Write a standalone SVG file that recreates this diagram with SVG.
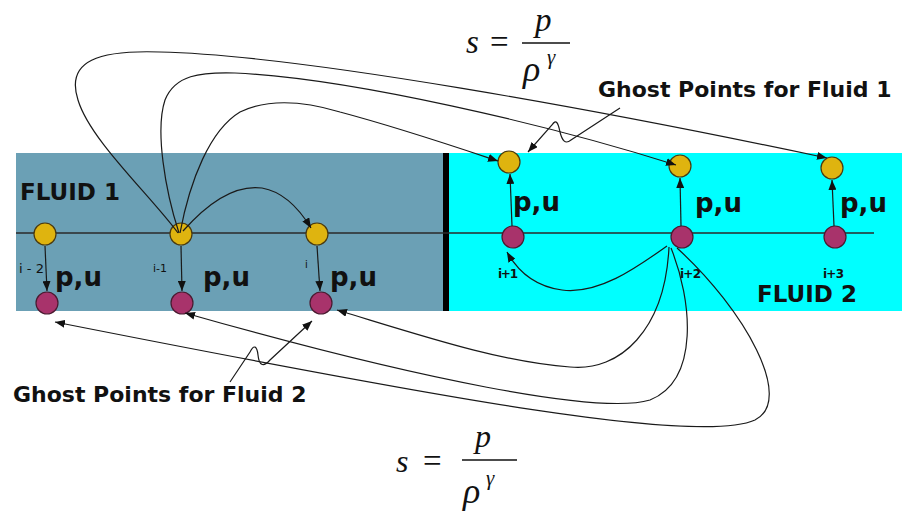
<svg xmlns="http://www.w3.org/2000/svg" width="902" height="511" viewBox="0 0 902 511">
<style>
.lbl{font-family:"DejaVu Sans",Verdana,sans-serif;font-weight:bold;fill:#111}
.idx{font-family:"DejaVu Sans",Verdana,sans-serif;fill:#111}
.math{font-family:"Liberation Serif","Times New Roman",serif;fill:#111}
.it{font-style:italic}
.yel{fill:#dfb40f;stroke:#4a3a10;stroke-width:1.2}
.pur{fill:#a8336b;stroke:#4a1a30;stroke-width:1.2}
.con{fill:none;stroke:#1a1a1a;stroke-width:1.2}
.arr{marker-end:url(#ah)}
</style>
<defs>
<marker id="ah" markerUnits="userSpaceOnUse" markerWidth="10" markerHeight="8" refX="10" refY="4" orient="auto">
<path d="M0,0 L10,4 L0,8 z" fill="#111"/>
</marker>
</defs>
<rect width="902" height="511" fill="#fff"/>
<g id="fluid1-region">
<rect x="16" y="153" width="430" height="158" fill="#6ba0b5"/>
<text class="lbl" x="20" y="200" font-size="23">FLUID 1</text>
</g>
<g id="fluid2-region">
<rect x="446" y="153" width="456" height="158" fill="#00ffff"/>
<text class="lbl" x="757" y="302" font-size="23">FLUID 2</text>
</g>
<g id="interface"><rect x="443" y="153" width="6" height="158" fill="#000"/></g>
<g id="axis"><line x1="16" y1="233" x2="874" y2="233" stroke="#2a2a2a" stroke-width="1.3"/></g>

<g id="node-y-im2"><circle class="yel" cx="45" cy="234" r="11"/><text class="idx" x="19" y="273" font-size="13" textLength="25">i-2</text><text class="lbl" x="55" y="286" font-size="26">p,u</text></g>
<g id="node-y-im1"><circle class="yel" cx="181" cy="234" r="11"/><text class="idx" x="153" y="272" font-size="11">i-1</text><text class="lbl" x="203" y="286" font-size="26">p,u</text></g>
<g id="node-y-i"><circle class="yel" cx="317" cy="234" r="11"/><text class="idx" x="305" y="268" font-size="10">i</text><text class="lbl" x="330" y="286" font-size="26">p,u</text></g>
<g id="node-p-im2"><circle class="pur" cx="47" cy="303" r="11"/></g>
<g id="node-p-im1"><circle class="pur" cx="182" cy="303" r="11"/></g>
<g id="node-p-i"><circle class="pur" cx="321" cy="303" r="11"/></g>

<g id="node-p-ip1"><circle class="pur" cx="513" cy="237" r="11"/><text class="idx" x="498" y="278" font-size="12" font-weight="bold" textLength="20">i+1</text><text class="lbl" x="513" y="211" font-size="26">p,u</text></g>
<g id="node-p-ip2"><circle class="pur" cx="682" cy="237" r="11"/><text class="idx" x="680" y="278" font-size="12" font-weight="bold" textLength="21">i+2</text><text class="lbl" x="695" y="212" font-size="26">p,u</text></g>
<g id="node-p-ip3"><circle class="pur" cx="835" cy="237" r="11"/><text class="idx" x="823" y="278" font-size="12" font-weight="bold" textLength="21">i+3</text><text class="lbl" x="840" y="212" font-size="26">p,u</text></g>
<g id="node-y-ip1"><circle class="yel" cx="509" cy="162" r="11"/></g>
<g id="node-y-ip2"><circle class="yel" cx="680" cy="166" r="11"/></g>
<g id="node-y-ip3"><circle class="yel" cx="832" cy="168" r="11"/></g>

<g id="label-ghost1"><text class="lbl" x="598" y="97" font-size="22">Ghost Points for Fluid 1</text></g>
<g id="label-ghost2"><text class="lbl" x="13" y="402" font-size="22">Ghost Points for Fluid 2</text></g>

<g id="formula-top">
<text class="math it" x="466" y="53" font-size="33">s</text>
<text class="math" x="490" y="53" font-size="33">=</text>
<line x1="522" y1="43" x2="570" y2="43" stroke="#111" stroke-width="1.5"/>
<text class="math it" x="535" y="31" font-size="33">p</text>
<text class="math it" x="523" y="81" font-size="36">ρ</text>
<text class="math it" x="547" y="64" font-size="21">γ</text>
</g>
<g id="formula-bottom">
<text class="math it" x="396" y="472" font-size="32">s</text>
<text class="math" x="423" y="472" font-size="33">=</text>
<line x1="462" y1="460" x2="517" y2="460" stroke="#111" stroke-width="1.5"/>
<text class="math it" x="475" y="447" font-size="32">p</text>
<text class="math it" x="463" y="503" font-size="36">ρ</text>
<text class="math it" x="486" y="485" font-size="21">γ</text>
</g>

<g id="connectors">
<path class="con arr" d="M45,246 L47,291"/>
<path class="con arr" d="M181,246 L182,291"/>
<path class="con arr" d="M317,246 L320,291"/>
<path class="con arr" d="M512,226 L510,174"/>
<path class="con arr" d="M681,226 L680,178"/>
<path class="con arr" d="M834,226 L832,180"/>
<path class="con arr" d="M178,233 C150,195 90,140 78,100 C65,60 100,50 160,52 C300,55 600,110 827,158"/>
<path class="con arr" d="M179,233 C165,190 155,130 165,100 C175,75 200,72 235,73 C350,78 550,125 676,165"/>
<path class="con arr" d="M180,233 C190,180 210,130 240,112 C265,100 300,100 340,112 C400,128 450,145 498,161"/>
<path class="con arr" d="M183,231 C213,197 240,185 262,188 C285,192 300,210 311,228"/>
<path class="con arr" d="M667,246 C640,265 600,295 562,290 C532,286 516,268 507,252"/>
<path class="con arr" d="M669,247 C665,330 620,372 570,367 C500,362 420,335 337,310"/>
<path class="con arr" d="M671,248 C692,300 700,380 650,400 C600,415 420,380 185,313"/>
<path class="con arr" d="M677,248 C745,310 795,400 755,420 C700,445 450,400 55,322"/>
<path class="con arr" d="M620,108 L571,140 C565,145 562,140 560,132 C558,122 556,119 552,125 L528,152"/>
<path class="con arr" d="M230,382 L250,352 C254,344 257,346 258,355 C259,365 263,368 270,360 L312,321"/>
</g>
</svg>
